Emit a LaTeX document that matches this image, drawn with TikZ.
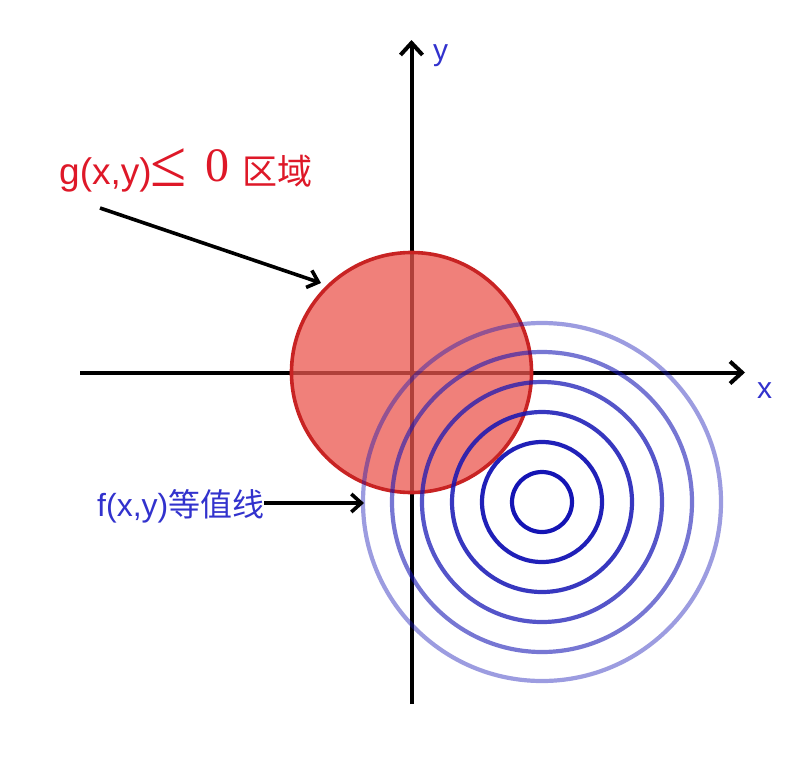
\documentclass[tikz,border=0pt]{standalone}
\usepackage{fontspec}
\setmainfont{Liberation Sans}
\newfontfamily\cjk{Noto Sans CJK SC}
\newfontfamily\serifnum{Liberation Serif}
\usetikzlibrary{arrows.meta}
\definecolor{redtxt}{RGB}{222,24,40}
\definecolor{bluetxt}{RGB}{50,50,205}
\definecolor{regionfill}{RGB}{235,86,78}
\definecolor{regionline}{RGB}{200,35,35}
\definecolor{contour}{RGB}{20,20,180}
\tikzset{
  axis/.style={line width=4pt,-{Straight Barb[length=12pt,width=22pt,line width=4pt]}},
  pointer/.style={line width=3.6pt,-{Straight Barb[length=10pt,width=18pt,line width=3.6pt]}},
  lbl/.style={inner sep=0pt,anchor=base west},
  ring/.style={draw=contour,line width=4.2pt},
}
\begin{document}
\begin{tikzpicture}[x=1pt,y=-1pt]
\useasboundingbox (0,0) rectangle (808,756);
% axes
\coordinate (ybot) at (411.5,704);
\coordinate (ytop) at (411.5,40);
\coordinate (xleft) at (80,372.5);
\coordinate (xright) at (745,372.5);
\draw[axis] (ybot) -- (ytop);
\draw[axis] (xleft) -- (xright);
% region g<=0
\coordinate (gc) at (411.5,372.5);
\fill[regionfill,opacity=0.75] (gc) circle[radius=120];
\draw[regionline,line width=3.6pt] (gc) circle[radius=120];
% contours of f
\coordinate (fc) at (542,502);
\draw[ring,opacity=1.0] (fc) circle[radius=30];
\draw[ring,opacity=0.95] (fc) circle[radius=60];
\draw[ring,opacity=0.85] (fc) circle[radius=90];
\draw[ring,opacity=0.72] (fc) circle[radius=120];
\draw[ring,opacity=0.58] (fc) circle[radius=150];
\draw[ring,opacity=0.42] (fc) circle[radius=179];
% axis labels
\node[lbl,text=bluetxt,font=\fontsize{30}{34}\selectfont] (ylab) at (433,60) {y};
\node[lbl,text=bluetxt,font=\fontsize{30}{34}\selectfont] (xlab) at (757,398) {x};
% g label
\node[lbl,text=redtxt,font=\fontsize{37}{42}\selectfont] (gtxt) at (59,184) {g(x,y)};
\node[lbl,text=redtxt,font=\serifnum\fontsize{66}{70}\selectfont] (gleq) at (150,186) {≤};
\node[lbl,text=redtxt,font=\serifnum\fontsize{48}{52}\selectfont] (gzero) at (205,181) {0};
\node[lbl,text=redtxt,font=\cjk\fontsize{35}{40}\selectfont] (gzone) at (242,184) {区域};
\coordinate (gs) at (100,208);
\coordinate (ge) at (321,283);
\draw[pointer] (gs) -- (ge);
% f label
\node[lbl,text=bluetxt,font=\fontsize{32}{36}\selectfont] (ftxt) at (97,516) {f(x,y)\cjk 等值线};
\coordinate (fe) at (364,503);
\draw[pointer] (ftxt.east |- fe) -- (fe);
\end{tikzpicture}
\end{document}
